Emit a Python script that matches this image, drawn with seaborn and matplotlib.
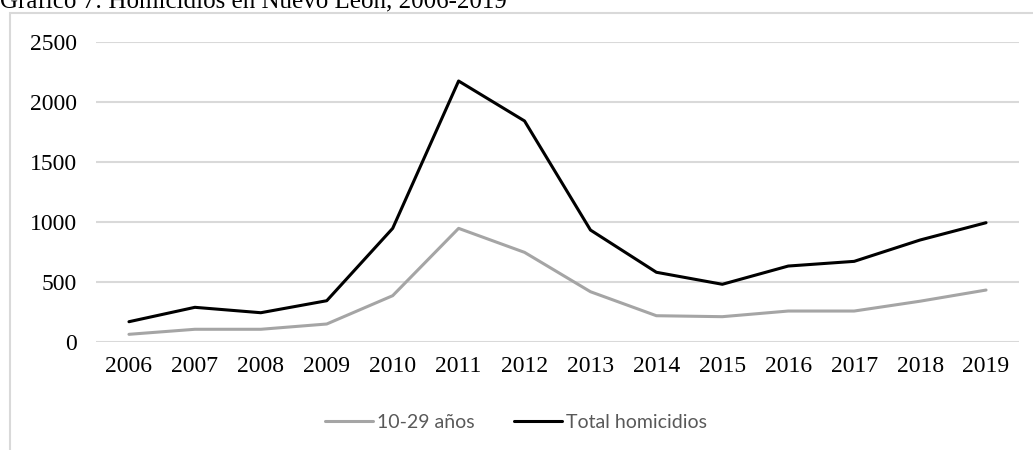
import matplotlib
matplotlib.use("Agg")
import matplotlib.pyplot as plt
from matplotlib.patches import Rectangle
from matplotlib.lines import Line2D
import seaborn as sns
import pandas as pd

years = [2006, 2007, 2008, 2009, 2010, 2011, 2012, 2013, 2014, 2015, 2016, 2017, 2018, 2019]
jovenes = [64, 106, 106, 150, 386, 947, 747, 419, 219, 211, 258, 258, 340, 433]
total = [169, 289, 244, 344, 947, 2175, 1842, 933, 581, 481, 633, 672, 850, 994]
series_names = ["10-29 años", "Total homicidios"]
y_ticks = [0, 500, 1000, 1500, 2000, 2500]

df = pd.DataFrame({
    "year": years * 2,
    "value": jovenes + total,
    "serie": [series_names[0]] * len(years) + [series_names[1]] * len(years),
})

sns.set_theme(style="white")
plt.rcParams["font.family"] = ["Liberation Serif", "DejaVu Serif"]

W, H = 1033, 450
fig = plt.figure(figsize=(W / 100, H / 100), dpi=100)
ax = fig.add_axes([96 / W, (H - 342) / H, (1019 - 96) / W, 300 / H])

# outer chart frame (left and top edges visible)
fig.patches.append(Rectangle((10 / W, -0.1), 1.2, (H - 13) / H + 0.1,
                             transform=fig.transFigure, fill=False,
                             edgecolor="#D9D9D9", linewidth=1.5, zorder=0))

sns.lineplot(data=df, x="year", y="value", hue="serie",
             palette={series_names[0]: "#A5A5A5", series_names[1]: "#000000"},
             linewidth=2.2, ax=ax, legend=False)

ax.set_xlim(years[0] - 0.5, years[-1] + 0.5)
ax.set_ylim(0, 2500)
ax.set_xticks(years)
ax.set_xticklabels([str(y) for y in years])
ax.set_yticks(y_ticks)
ax.yaxis.grid(True, color="#D9D9D9", linewidth=1.5)
ax.xaxis.grid(False)
ax.set_axisbelow(True)
for s in ax.spines.values():
    s.set_visible(False)
ax.tick_params(axis="y", length=0, pad=14, labelsize=17, labelcolor="black")
ax.tick_params(axis="x", length=0, pad=10, labelsize=17, labelcolor="black")
ax.set_xlabel("")
ax.set_ylabel("")

handles = [Line2D([], [], color="#A5A5A5", lw=2.2),
           Line2D([], [], color="#000000", lw=2.2)]
fig.legend(handles, series_names, loc="center", bbox_to_anchor=(516 / W, (H - 422) / H),
           ncol=2, frameon=False, handlelength=2.5, handletextpad=0.2,
           columnspacing=2.0,
           prop={"family": "Lato", "size": 14}, labelcolor="#595959")

fig.text(0.0, (H - 8) / H, "Gráfico 7: Homicidios en Nuevo León, 2006-2019",
         ha="left", va="baseline", fontsize=18, color="black")

fig.savefig("out.png", dpi=100)
